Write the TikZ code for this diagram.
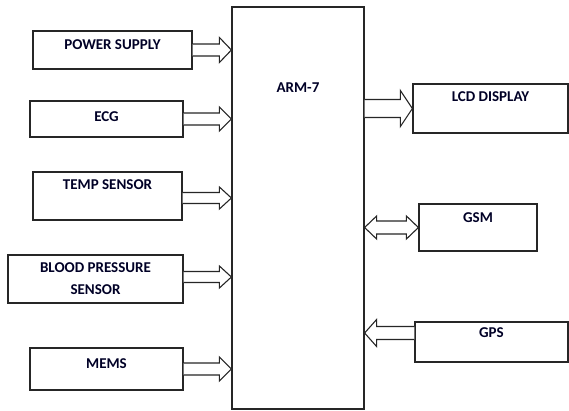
\documentclass[tikz,border=0pt]{standalone}
\usepackage{fontspec}
\setmainfont{Carlito}
\usepackage{tikz}
\usetikzlibrary{calc, positioning}
\definecolor{boxline}{rgb}{0.15, 0.15, 0.15}

% block arrow, pointing right: from #1 to #2, half shaft #3, half head #4
\newcommand{\rarr}[4]{%
  \draw[blkarr] ($(#1)+(0,-#3)$) -- ($(#2)+(-12,-#3)$) -- ($(#2)+(-12,-#4)$) -- (#2)
    -- ($(#2)+(-12,#4)$) -- ($(#2)+(-12,#3)$) -- ($(#1)+(0,#3)$);}
% block arrow, pointing left: tip at #1, tail at #2
\newcommand{\larr}[4]{%
  \draw[blkarr] ($(#2)+(0,-#3)$) -- ($(#1)+(12,-#3)$) -- ($(#1)+(12,-#4)$) -- (#1)
    -- ($(#1)+(12,#4)$) -- ($(#1)+(12,#3)$) -- ($(#2)+(0,#3)$);}
% block arrow with two heads
\newcommand{\dblarr}[4]{%
  \draw[blkarr] (#1) -- ($(#1)+(12,-#4)$) -- ($(#1)+(12,-#3)$) -- ($(#2)+(-12,-#3)$)
    -- ($(#2)+(-12,-#4)$) -- (#2) -- ($(#2)+(-12,#4)$) -- ($(#2)+(-12,#3)$)
    -- ($(#1)+(12,#3)$) -- ($(#1)+(12,#4)$) -- cycle;}

\begin{document}
\begin{tikzpicture}[x=1pt, y=-1pt,
    blk/.style={draw=boxline, line width=1.2pt, rectangle, inner sep=0pt},
    lbl/.style={font=\fontsize{15}{22}\selectfont\bfseries, text=black!85!blue, inner sep=0pt, align=center},
    blkarr/.style={draw=boxline, line width=1.1pt, fill=white, line join=miter}]
    \useasboundingbox (0,0) rectangle (569,410);
    % Controller
    \node[blk, minimum width=132pt, minimum height=402pt] (arm) at (298,208) {};
    \node[lbl] (armtxt) at ($(arm.north)+(0,81)$) {ARM-7};
    % Inputs
    \node[blk, minimum width=159pt, minimum height=38pt] (pwr) at (112.5,50) {};
    \node[lbl] (pwrtxt) at ($(pwr.north)+(0,14)$) {POWER SUPPLY};
    \node[blk, minimum width=153pt, minimum height=36pt] (ecg) at (106.5,119) {};
    \node[lbl] (ecgtxt) at ($(ecg.north)+(0,16)$) {ECG};
    \node[blk, minimum width=149pt, minimum height=48pt] (temp) at (107.5,196) {};
    \node[lbl] (temptxt) at ($(temp.north)+(0,13)$) {TEMP SENSOR};
    \node[blk, minimum width=175pt, minimum height=48pt] (bp) at (95.5,279) {};
    \node[lbl] (bptxt) at ($(bp.north)+(0,24)$) {BLOOD PRESSURE\\SENSOR};
    \node[blk, minimum width=153pt, minimum height=42pt] (mems) at (106.5,369) {};
    \node[lbl] (memstxt) at ($(mems.north)+(0,16)$) {MEMS};
    % Outputs
    \node[blk, minimum width=155pt, minimum height=49pt] (lcd) at (490.5,108.5) {};
    \node[lbl] (lcdtxt) at ($(lcd.north)+(0,13)$) {LCD DISPLAY};
    \node[blk, minimum width=118pt, minimum height=47pt] (gsm) at (478,227.5) {};
    \node[lbl] (gsmtxt) at ($(gsm.north)+(0,14)$) {GSM};
    \node[blk, minimum width=153pt, minimum height=40pt] (gps) at (491.5,342) {};
    \node[lbl] (gpstxt) at ($(gps.north)+(0,11)$) {GPS};
    % Arrow ends on the controller
    \coordinate (pwrin) at (arm.west |- pwr.east);
    \coordinate (ecgin) at (arm.west |- ecg.east);
    \coordinate (tempin) at ([yshift=-2pt]arm.west |- temp.east);
    \coordinate (bpin) at ([yshift=2pt]arm.west |- bp.east);
    \coordinate (memsin) at (arm.west |- mems.east);
    \coordinate (lcdout) at (arm.east |- lcd.west);
    \coordinate (gsmio) at (arm.east |- gsm.west);
    \coordinate (gpsout) at ([yshift=9pt]gps.west);
    \coordinate (gpsin) at (arm.east |- gpsout);
    % Arrows
    \rarr{pwr.east}{pwrin}{6}{12.5}
    \rarr{ecg.east}{ecgin}{6}{12}
    \rarr{[yshift=-2pt]temp.east}{tempin}{5.5}{11}
    \rarr{[yshift=2pt]bp.east}{bpin}{5.5}{11}
    \rarr{mems.east}{memsin}{6}{12}
    \rarr{lcdout}{lcd.west}{9}{18}
    \dblarr{gsmio}{gsm.west}{6.5}{11.5}
    \larr{gpsin}{gpsout}{6.5}{13.5}
\end{tikzpicture}
\end{document}
